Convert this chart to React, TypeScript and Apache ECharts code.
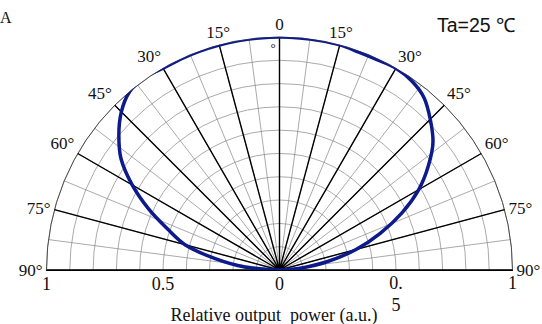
import { useEffect, useRef } from 'react';
import * as echarts from 'echarts';

// Emission angle (deg) and relative output power (a.u.)
const angles = [-90, -85, -80, -75, -70, -65, -60, -55, -50, -45, -40, -35, -30, -25, -20, -15, -10, -5, 0,
  5, 10, 15, 20, 25, 30, 35, 40, 45, 50, 55, 60, 65, 70, 75, 80, 85, 90];
const power = [0, 0.15, 0.28, 0.42, 0.51, 0.62, 0.73, 0.83, 0.9, 0.96, 1.0, 1.01, 1.0, 1.0, 1.0, 1.0, 1.0, 1.0, 1.0,
  1.0, 1.0, 1.0, 0.995, 0.995, 1.0, 0.99, 0.965, 0.915, 0.86, 0.78, 0.69, 0.58, 0.46, 0.34, 0.21, 0.09, 0];
const leftRadiusLabels: Record<string, string> = { '0': '0', '0.5': '0.5', '1': '1' };
const rightRadiusLabels: Record<string, string> = { '0.5': '0.\n5', '1': '1' };
const titleText = 'Relative output  power (a.u.)';
const tempText = 'Ta=25 ℃';

const SERIF = '"Liberation Serif", "Times New Roman", serif';
const SANS = '"Liberation Sans", Arial, sans-serif';

function radiusKey(v: number) {
  return String(Math.round(v * 10) / 10);
}

export default function App() {
  const ref = useRef<HTMLDivElement>(null);
  useEffect(() => {
    if (!ref.current) return;
    const chart = echarts.init(ref.current, undefined, { renderer: 'svg' });
    const R = 233;
    const center = [279.5, 270];
    chart.setOption({
      animation: false,
      backgroundColor: '#ffffff',
      polar: [
        { center, radius: [0, R] },
        { center, radius: [0, R] },
      ],
      angleAxis: [
        {
          polarIndex: 0,
          type: 'value',
          min: -90,
          max: 90,
          interval: 7.5,
          startAngle: 180,
          endAngle: 0,
          clockwise: true,
          z: 1,
          axisLine: { show: true, lineStyle: { color: '#333', width: 0.8 } },
          axisTick: { show: false },
          splitLine: { show: true, lineStyle: { color: '#858585', width: 0.7 } },
          axisLabel: {
            show: true,
            margin: 4,
            color: '#111',
            fontFamily: SERIF,
            fontSize: 17,
            formatter: (v: number) => {
              const a = Math.round(v * 10) / 10;
              if (a % 15 !== 0) return '';
              if (a === 0) return '0';
              return Math.abs(a) + '°';
            },
          },
        },
        {
          polarIndex: 1,
          type: 'value',
          min: 0,
          max: 180,
          interval: 15,
          startAngle: 0,
          endAngle: 180,
          clockwise: false,
          z: 2,
          axisLine: { show: false },
          axisTick: { show: false },
          axisLabel: { show: false },
          splitLine: { show: true, lineStyle: { color: '#000', width: 1.4 } },
        },
      ],
      radiusAxis: [
        {
          polarIndex: 0,
          type: 'value',
          min: 0,
          max: 1,
          interval: 0.1,
          z: 1,
          axisLine: { show: true, lineStyle: { color: '#000', width: 1.2 } },
          axisTick: { show: false },
          splitLine: { show: true, lineStyle: { color: '#858585', width: 0.7 } },
          axisLabel: {
            show: true,
            margin: 5,
            verticalAlign: 'top',
            color: '#111',
            fontFamily: SERIF,
            fontSize: 18,
            formatter: (v: number) => leftRadiusLabels[radiusKey(v)] || '',
          },
        },
        {
          polarIndex: 1,
          type: 'value',
          min: 0,
          max: 1,
          interval: 0.1,
          z: 2,
          axisLine: { show: true, lineStyle: { color: '#000', width: 1.2 } },
          axisTick: { show: false },
          splitLine: { show: false },
          axisLabel: {
            show: true,
            margin: -2,
            verticalAlign: 'top',
            color: '#111',
            fontFamily: SERIF,
            fontSize: 18,
            lineHeight: 22,
            formatter: (v: number) => rightRadiusLabels[radiusKey(v)] || '',
          },
        },
      ],
      series: [
        {
          type: 'line',
          coordinateSystem: 'polar',
          polarIndex: 0,
          z: 10,
          smooth: 0.3,
          symbol: 'none',
          lineStyle: { color: '#0d1a8c', width: 3.5 },
          data: angles.map((a, i) => [power[i], a]),
        },
      ],
      graphic: [
        {
          type: 'text',
          x: 274,
          y: 315,
          style: { text: titleText, fontFamily: SERIF, fontSize: 18, fill: '#111', textAlign: 'center', textVerticalAlign: 'middle' },
        },
        {
          type: 'text',
          x: 437,
          y: 25,
          style: { text: tempText, fontFamily: SANS, fontSize: 19.5, fill: '#111', textAlign: 'left', textVerticalAlign: 'middle' },
        },
        {
          type: 'text',
          x: 273,
          y: 47,
          style: { text: '°', fontFamily: SERIF, fontSize: 13, fill: '#111', textAlign: 'center', textVerticalAlign: 'middle' },
        },
        {
          type: 'text',
          x: 0,
          y: 17,
          style: { text: 'A', fontFamily: SERIF, fontSize: 16, fill: '#111', textAlign: 'left', textVerticalAlign: 'middle' },
        },
      ],
    });
    return () => chart.dispose();
  }, []);
  return <div ref={ref} style={{ position: 'fixed', left: 0, top: 0, width: 542, height: 324 }} />;
}
